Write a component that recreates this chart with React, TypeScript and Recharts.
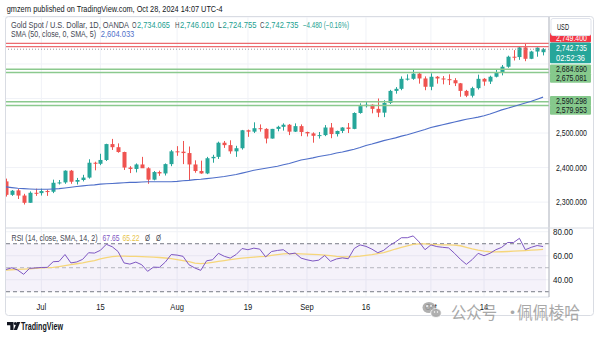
import React from 'react';
import { ComposedChart, Bar, Line, XAxis, YAxis, CartesianGrid, ReferenceLine, ReferenceArea } from 'recharts';

const DATES = [
  'Jun 21','Jun 24','Jun 25','Jun 26','Jun 27','Jun 28',
  'Jul 1','Jul 2','Jul 3','Jul 4','Jul 5','Jul 8','Jul 9','Jul 10','Jul 11','Jul 12','Jul 15','Jul 16','Jul 17','Jul 18','Jul 19','Jul 22','Jul 23','Jul 24','Jul 25','Jul 26','Jul 29','Jul 30','Jul 31',
  'Aug 1','Aug 2','Aug 5','Aug 6','Aug 7','Aug 8','Aug 9','Aug 12','Aug 13','Aug 14','Aug 15','Aug 16','Aug 19','Aug 20','Aug 21','Aug 22','Aug 23','Aug 26','Aug 27','Aug 28','Aug 29','Aug 30',
  'Sep 2','Sep 3','Sep 4','Sep 5','Sep 6','Sep 9','Sep 10','Sep 11','Sep 12','Sep 13','Sep 16','Sep 17','Sep 18','Sep 19','Sep 20','Sep 23','Sep 24','Sep 25','Sep 26','Sep 27','Sep 30',
  'Oct 1','Oct 2','Oct 3','Oct 4','Oct 7','Oct 8','Oct 9','Oct 10','Oct 11','Oct 14','Oct 15','Oct 16','Oct 17','Oct 18','Oct 21','Oct 22','Oct 23','Oct 24','Oct 25','Oct 28',
];

const OPEN = [
  2360,2321,2334,2319,2298,2327,
  2326,2332,2330,2356,2357,2391,2359,2364,2371,2414,2411,2422,2468,2459,2445,2400,2396,2409,2398,2365,2387,2383,2410,
  2447,2446,2442,2409,2390,2383,2427,2431,2472,2465,2447,2456,2508,2504,2514,2512,2484,2512,2518,2524,2504,2520,
  2503,2499,2492,2494,2516,2497,2506,2516,2512,2558,2578,2582,2570,2559,2587,2622,2628,2657,2657,2672,2658,
  2634,2663,2658,2656,2653,2644,2622,2608,2630,2657,2649,2663,2674,2692,2721,2720,2748,2715,2736,2734.065,
];
const HIGH = [
  2368,2335,2338,2324,2331,2339,
  2339,2336,2365,2364,2392,2393,2370,2379,2424,2417,2440,2469,2483,2470,2446,2404,2412,2431,2401,2390,2391,2412,2451,
  2462,2477,2461,2421,2420,2431,2437,2475,2477,2479,2463,2509,2510,2531,2525,2514,2512,2521,2528,2526,2528,2525,
  2504,2502,2503,2523,2529,2507,2517,2529,2560,2586,2590,2583,2600,2595,2625,2633,2664,2670,2685,2674,2664,
  2673,2665,2665,2670,2659,2645,2625,2634,2669,2659,2666,2684,2697,2724,2740,2749,2758.4,2738,2748,2746.01,
];
const LOW = [
  2316,2318,2309,2293,2298,2318,
  2319,2318,2326,2351,2353,2353,2351,2360,2368,2392,2407,2419,2451,2443,2393,2384,2386,2399,2353,2363,2376,2377,2404,
  2434,2410,2364,2385,2382,2381,2414,2425,2457,2440,2431,2452,2489,2500,2504,2470,2484,2505,2507,2494,2503,2491,
  2490,2472,2484,2491,2485,2490,2500,2500,2511,2556,2574,2557,2546,2546,2584,2614,2624,2652,2654,2643,2624,
  2624,2643,2641,2639,2636,2605,2604,2603,2626,2637,2642,2661,2667,2689,2710,2712,2708,2714,2721,2724.755,
];
const CLOSE = [
  2321,2333,2319,2298,2327,2326,
  2332,2330,2356,2357,2391,2359,2364,2371,2414,2411,2422,2468,2459,2445,2400,2396,2409,2398,2365,2387,2383,2410,2447,
  2446,2442,2409,2390,2383,2427,2431,2472,2465,2447,2456,2508,2504,2514,2512,2484,2512,2518,2524,2504,2520,2503,
  2499,2492,2494,2516,2497,2506,2516,2512,2558,2578,2582,2570,2559,2587,2622,2628,2657,2657.5,2672,2658,2634,
  2663,2658,2656,2653,2644,2622,2608,2630,2657,2649,2663,2674,2692,2721,2720,2748,2715,2736,2747.2,2742.735,
];
const SMA50 = [
  2344,2342,2340,2339,2338,2337,2337,2337,2338,2339,2341,2343,2345,2347,2349,2350,2352,2353,2354,2355,
  2356,2357,2357,2358,2359,2359,2359,2359,2359,2360,2362,2363,2365,2366,2368,2370,2372,2374,2377,2380,
  2384,2388,2392,2395,2398,2401,2404,2408,2412,2417,2422,2425,2428,2432,2435,2438,2442,2445,2449,2453,
  2458,2464,2468,2473,2478,2482,2486,2491,2495,2500,2505,2510,2516,2520,2524,2528,2532,2536,2540,2543,
  2546,2550,2555,2561,2567,2572,2577,2582,2587,2592,2598,2604,
];
const RSI = [
  48.5,50,48,44.5,49.5,49.8,50.2,50.3,55,55.3,61,54,54.8,57,62.5,62.2,64.5,69.5,67.5,63.5,
  54,53,54.7,52.5,47,50.5,50.3,54.7,61,60.5,59.5,52.5,49.8,47.8,55.8,56.6,62,59.5,58,61,
  66,65,66.3,65.5,59,63.5,64.4,65,61.4,62.2,58,56.6,55.6,56.3,60.2,55.3,57.3,58.2,57.5,66,
  69,67.8,65.5,62.5,64.5,68.5,71.5,75,75,76.5,71.5,65,69,67.6,67,66.5,62,57,52.8,56.8,
  62,60,62,65,67,71,71,74.5,65,67,68.5,67.65,
];
const RSI_SMA = [
  48,48.3,48.6,48.8,49.1,49.5,49.8,50,50.3,51,51.8,52.6,53.3,54,55,56,57.3,58.5,59.3,59.6,
  59.6,59.5,59.4,59.2,59,58.8,58.5,58.1,57.5,56.8,55.9,55,53.8,53.4,53.8,54.5,55.3,56,56.8,57.4,
  58,58.4,58.8,59.2,59.5,60.2,60.9,61.5,61.7,61.8,61.6,61.4,61.2,60.9,60.5,60,59.4,59.1,59.1,59.3,
  59.7,60.3,60.9,61.7,62.6,64,65.6,67,68.3,69.4,69.8,69.9,69.5,69.2,69.1,69,68.9,68.3,67,65.7,
  64.6,63.8,63.3,63.2,63.3,63.5,63.8,64,64.3,64.6,64.9,65.22,
];

const TICK_DATES = ['Jul 1', 'Jul 15', 'Aug 1', 'Aug 19', 'Sep 2', 'Sep 16', 'Oct 1', 'Oct 14'];
const TICK_LABELS = ['Jul', '15', 'Aug', '19', 'Sep', '16', 'Oct', '14'];
const PRICE_TICKS = [2300, 2400, 2500, 2600, 2700];
const PRICE_TICKS_SHOWN = [2300, 2400, 2500];
const RSI_TICKS = [40, 60, 80];

const RED_LEVELS = [2759.4, 2750.4];
const GREEN_LEVELS = [2684.69, 2675.081, 2590.298, 2579.953];
const GREEN_LABEL_SHIFT = [0, 5.5, -1, 4.5];
const LAST_PRICE = 2742.735;
const COUNTDOWN = '02:52:36';

const UP = '#26a69a';
const DOWN = '#ef5350';
const FONT = '"Liberation Sans", Arial, sans-serif';

const rows = DATES.map((d, i) => ({
  date: d,
  open: OPEN[i],
  high: HIGH[i],
  low: LOW[i],
  close: CLOSE[i],
  range: [LOW[i], HIGH[i]],
  sma: SMA50[i],
  rsi: RSI[i],
  rsiSma: RSI_SMA[i],
}));

const fmtPrice = (v: number) =>
  v.toLocaleString('en-US', { minimumFractionDigits: 3, maximumFractionDigits: 3 });

function Candle(props: any) {
  const { x, y, width, height, payload } = props;
  if (!payload || x == null || y == null) return null;
  const { open, close, high, low } = payload;
  const color = close >= open ? UP : DOWN;
  const top = height >= 0 ? y : y + height;
  const h = Math.abs(height);
  const span = high - low || 1;
  const py = (v: number) => top + ((high - v) / span) * h;
  const cx = Math.round(x + width / 2);
  const bTop = py(Math.max(open, close));
  const bBot = py(Math.min(open, close));
  return (
    <g>
      <line x1={cx + 0.5} x2={cx + 0.5} y1={top} y2={top + h} stroke={color} strokeWidth={1} />
      <rect x={cx - 1.5} y={bTop} width={4} height={Math.max(1, bBot - bTop)} fill={color} />
    </g>
  );
}

function PriceTick(props: any) {
  const { x, y, payload } = props;
  if (!PRICE_TICKS_SHOWN.includes(payload.value)) return null;
  return (
    <text x={x - 1} y={y} dominantBaseline="central" fontSize={9} fill="#131722" fontFamily={FONT}
      textLength={31} lengthAdjust="spacingAndGlyphs">
      {fmtPrice(payload.value)}
    </text>
  );
}

function RsiTick(props: any) {
  const { x, y, payload } = props;
  return (
    <text x={x - 4} y={y} dominantBaseline="central" fontSize={9} fill="#131722" fontFamily={FONT}
      textLength={20} lengthAdjust="spacingAndGlyphs">
      {Number(payload.value).toFixed(2)}
    </text>
  );
}

function TimeTick(props: any) {
  const { x, y, payload } = props;
  const label = TICK_LABELS[TICK_DATES.indexOf(payload.value)];
  return (
    <text transform={`translate(${x} ${y + 1.5}) scale(0.8 1)`} textAnchor="middle" dominantBaseline="central"
      fontSize={9.5} fill="#131722" fontFamily={FONT}>
      {label}
    </text>
  );
}

function PriceTag(props: any) {
  const { viewBox, text, text2, bg, fg, dy = 0 } = props;
  if (!viewBox) return null;
  const x = viewBox.x + viewBox.width + 1;
  const cy = viewBox.y + dy;
  const h = text2 ? 20.6 : 9.6;
  const top = text2 ? cy - 5.3 : cy - h / 2;
  return (
    <g>
      <rect x={x} y={top} width={41} height={h} fill={bg} rx={1} />
      <text x={x + 6} y={cy} dominantBaseline="central" fontSize={9} fill={fg} fontFamily={FONT}
        textLength={31} lengthAdjust="spacingAndGlyphs">{text}</text>
      {text2 ? (
        <text x={x + 6} y={cy + 10} dominantBaseline="central" fontSize={9} fill={fg} fontFamily={FONT}
          textLength={29} lengthAdjust="spacingAndGlyphs">{text2}</text>
      ) : null}
    </g>
  );
}

function T(p: { x: number; y: number; w?: number; s?: number; c?: string; b?: boolean; children: React.ReactNode; f?: string }) {
  return (
    <text x={p.x} y={p.y} dominantBaseline="central" fontSize={p.s ?? 8.5} fill={p.c ?? '#131722'}
      fontFamily={p.f ?? FONT} fontWeight={p.b ? 600 : 400}
      {...(p.w ? { textLength: p.w, lengthAdjust: 'spacingAndGlyphs' } : {})}>
      {p.children}
    </text>
  );
}

const TEAL_TXT = '#22a08f';
const SMA_COLOR = '#4f6fc9';

export default function App() {
  return (
    <div style={{ position: 'absolute', left: 0, top: 0, width: 600, height: 337, background: '#fff', overflow: 'hidden' }}>
      <div style={{ position: 'absolute', left: 0, top: 0 }}>
        <ComposedChart width={600} height={228} data={rows} margin={{ top: 17, right: 7, bottom: 0, left: 3 }} barCategoryGap={0}>
          <CartesianGrid stroke="#f0f2f7" />
          <XAxis dataKey="date" hide scale="band" ticks={TICK_DATES} interval={0} padding={{ left: 0, right: 3 }} />
          <YAxis orientation="right" width={44} domain={[2225, 2836]} ticks={PRICE_TICKS} interval={0} tick={<PriceTick />}
            tickLine={false} axisLine={{ stroke: '#b2b5be' }} allowDataOverflow />
          {RED_LEVELS.map((v) => (
            <ReferenceLine key={'r' + v} y={v} stroke="#ec6b70" strokeWidth={1.2} />
          ))}
          {GREEN_LEVELS.map((v) => (
            <ReferenceLine key={'g' + v} y={v} stroke="#8bc98e" strokeWidth={1.5} />
          ))}
          <ReferenceLine y={LAST_PRICE} stroke="#9598a1" strokeDasharray="1 2" />
          <Bar dataKey="range" shape={<Candle />} isAnimationActive={false} />
          <Line dataKey="sma" stroke={SMA_COLOR} strokeWidth={1.1} dot={false} isAnimationActive={false} />
          <ReferenceLine y={RED_LEVELS[1]} stroke="none"
            label={<PriceTag text="2,749.400" bg="#f23645" fg="#ffffff" dy={-9} />} />
          {GREEN_LEVELS.map((v, i) => (
            <ReferenceLine key={'gl' + v} y={v} stroke="none"
              label={<PriceTag text={fmtPrice(v)} bg="#86c98c" fg="#131722" dy={GREEN_LABEL_SHIFT[i]} />} />
          ))}
          <ReferenceLine y={LAST_PRICE} stroke="none"
            label={<PriceTag text={fmtPrice(LAST_PRICE)} text2={COUNTDOWN} bg={UP} fg="#ffffff" dy={-1.3} />} />
        </ComposedChart>
      </div>
      <div style={{ position: 'absolute', left: 0, top: 228 }}>
        <ComposedChart width={600} height={88} data={rows} margin={{ top: 0, right: 7, bottom: 0, left: 3 }}>
          <CartesianGrid stroke="#f0f2f7" />
          <ReferenceArea y1={30} y2={70} fill="#7e57c2" fillOpacity={0.08} stroke="none" />
          <ReferenceLine y={70} stroke="#787b86" strokeDasharray="4 3" />
          <ReferenceLine y={50} stroke="#787b86" strokeOpacity={0.5} strokeDasharray="4 3" />
          <ReferenceLine y={30} stroke="#787b86" strokeDasharray="4 3" />
          <XAxis dataKey="date" scale="band" ticks={TICK_DATES} interval={0} tick={<TimeTick />} tickLine={false}
            axisLine={{ stroke: '#e0e3eb' }} height={19} padding={{ left: 0, right: 3 }} />
          <YAxis orientation="right" width={44} domain={[25.6, 83.1]} ticks={RSI_TICKS} interval={0} tick={<RsiTick />}
            tickLine={false} axisLine={{ stroke: '#b2b5be' }} allowDataOverflow />
          <Line dataKey="rsiSma" stroke="#f6d67a" strokeWidth={1.3} dot={false} isAnimationActive={false} />
          <Line dataKey="rsi" stroke="#7e57c2" strokeWidth={1} dot={false} isAnimationActive={false} />
        </ComposedChart>
      </div>
      <svg width={600} height={337} style={{ position: 'absolute', left: 0, top: 0, pointerEvents: 'none' }}>
        <rect x={0} y={17} width={5.5} height={299} fill="#fff" />
        <rect x={5.5} y={16.5} width={588} height={299} rx={3} fill="none" stroke="#d9dce3" />
        <line x1={6} x2={593} y1={228} y2={228} stroke="#d9dce3" />
        <T x={6.7} y={8.3} s={9.5} w={216}>gmzern published on TradingView.com, Oct 28, 2024 14:07 UTC-4</T>
        <T x={11} y={25} w={118} c="#434651">Gold Spot / U.S. Dollar, 1D, OANDA</T>
        <T x={132} y={25} w={4.5} c="#434651">O</T>
        <T x={137} y={25} w={33} c={TEAL_TXT}>2,734.065</T>
        <T x={175} y={25} w={4.5} c="#434651">H</T>
        <T x={180} y={25} w={34} c={TEAL_TXT}>2,746.010</T>
        <T x={218} y={25} w={3.8} c="#434651">L</T>
        <T x={222.5} y={25} w={34} c={TEAL_TXT}>2,724.755</T>
        <T x={260} y={25} w={4.5} c="#434651">C</T>
        <T x={265} y={25} w={33.5} c={TEAL_TXT}>2,742.735</T>
        <T x={303} y={25} w={46} c={TEAL_TXT}>−4.480 (−0.16%)</T>
        <T x={11} y={34.3} w={85} c="#434651">SMA (50, close, 0, SMA, 5)</T>
        <T x={100.7} y={34.3} w={33.6} c={SMA_COLOR}>2,604.033</T>
        <rect x={551} y={18.5} width={40} height={17} rx={2} fill="#fff" stroke="#e0e3eb" />
        <T x={557} y={26.7} w={12} c="#131722">USD</T>
        <T x={11.5} y={238.3} w={86} c="#434651">RSI (14, close, SMA, 14, 2)</T>
        <T x={102.6} y={238.3} w={17} c="#7e57c2">67.65</T>
        <T x={122.5} y={238.3} w={17} c="#e7c34a">65.22</T>
        <T x={145} y={238.3} w={5} c="#434651">Ø</T>
        <T x={156} y={238.3} w={5} c="#434651">Ø</T>
        <g fill="#131722">
          <path d="M7 322 h6.5 v8 h-3.2 v-4.8 h-3.3 z" />
          <circle cx={15.3} cy={323.6} r={1.5} />
          <path d="M17 322 h3.3 l-3.3 8 h-3.3 z" />
        </g>
        <T x={21} y={326} s={10} w={42} b>TradingView</T>
        <g opacity={0.85}>
          <ellipse cx={429} cy={307.5} rx={6.5} ry={5.5} fill="#a3a3a3" />
          <ellipse cx={436} cy={313} rx={5.3} ry={4.5} fill="#a3a3a3" stroke="#fff" strokeWidth={0.8} />
          <circle cx={427} cy={306} r={0.9} fill="#fff" />
          <circle cx={431} cy={306} r={0.9} fill="#fff" />
          <circle cx={434.5} cy={312} r={0.7} fill="#fff" />
          <circle cx={437.5} cy={312} r={0.7} fill="#fff" />
          <T x={451} y={311} s={17} w={46} c="#9a9a9a" f='"Noto Sans CJK SC", sans-serif'>公众号</T>
          <T x={504} y={311} s={17} c="#9a9a9a" f='"Noto Sans CJK SC", sans-serif'>·</T>
          <T x={517} y={311} s={17} w={63} c="#9a9a9a" f='"Noto Sans CJK SC", sans-serif'>佩佩棱哈</T>
        </g>
      </svg>
    </div>
  );
}
